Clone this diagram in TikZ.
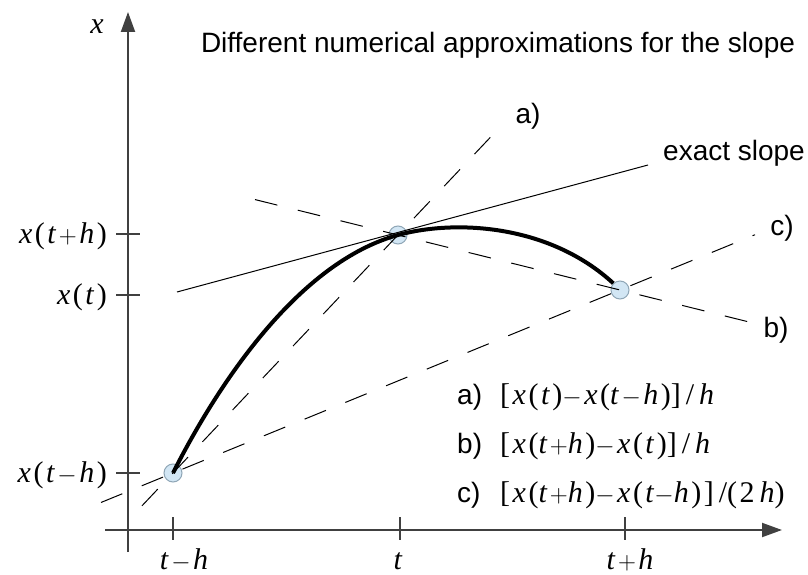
\documentclass[tikz,border=0pt]{standalone}
\usepackage{fontspec}
\setmainfont{Liberation Sans}
\newfontfamily\tms{Liberation Serif}
\usetikzlibrary{arrows.meta,calc}
\definecolor{ptfill}{HTML}{D2E6F4}
\definecolor{ptdraw}{HTML}{8FA6B6}
\definecolor{axcol}{HTML}{404040}
\newcommand\mv[1]{\textit{#1}}
\newcommand\xs{\hspace{2.5pt}}
\newcommand\mmin{\ensuremath{-}}
\newcommand\mplus{\ensuremath{+}}
\begin{document}
\begin{tikzpicture}[x=1pt,y=-1pt,
  txt/.style={font=\fontsize{28}{32}\selectfont, inner sep=0pt},
  mth/.style={font=\tms\fontsize{30}{34}\selectfont, inner sep=0pt},
  axis/.style={line width=2pt, draw=axcol},
  tickline/.style={line width=1.6pt, draw=axcol},
  dsh/.style={line width=1pt, dash pattern=on 23pt off 21pt},
  pt/.style={circle, minimum size=18pt, inner sep=0pt, fill=ptfill, draw=ptdraw, line width=1pt}
]
\useasboundingbox (0,0) rectangle (808,575);
% axes
\coordinate (yb) at (128,552);
\coordinate (yt) at (128,12);
\coordinate (xl) at (105,530);
\coordinate (xr) at (782,530);
\draw[axis,-{Triangle[length=20pt,width=14pt]}] (yb) -- (yt);
\draw[axis,-{Triangle[length=20pt,width=14pt]}] (xl) -- (xr);
% ticks
\foreach \tx/\nm in {173/a,400/b,625/c}{
  \coordinate (xt\nm1) at (\tx,517); \coordinate (xt\nm2) at (\tx,540);
  \draw[tickline] (xt\nm1) -- (xt\nm2);}
\foreach \ty/\nm in {234/a,295/b,473/c}{
  \coordinate (yt\nm1) at (116,\ty); \coordinate (yt\nm2) at (140,\ty);
  \draw[tickline] (yt\nm1) -- (yt\nm2);}
% axis labels
\node[mth] (lx) at (97,27) {\mv{x}};
\node[mth,anchor=base] (ltmh) at (184,569) {\mv{t}\xs\mmin\xs\mv{h}};
\node[mth,anchor=base] (lt) at (398,569) {\mv{t}};
\node[mth,anchor=base] (ltph) at (630,569) {\mv{t}\xs\mplus\xs\mv{h}};
\node[mth,anchor=base east] (lxtph) at (107,243) {\mv{x}\xs(\xs\mv{t}\xs\mplus\xs\mv{h}\xs)};
\node[mth,anchor=base east] (lxt) at (107,304) {\mv{x}\xs(\xs\mv{t}\xs)};
\node[mth,anchor=base east] (lxtmh) at (107,482) {\mv{x}\xs(\xs\mv{t}\xs\mmin\xs\mv{h}\xs)};
% title
\node[txt] (title) at (498,45) {Different numerical approximations for the slope};
% points
\node[pt] (P1) at (173,473) {};
\node[pt] (P2) at (398,235) {};
\node[pt] (P3) at (620,290) {};
% exact slope
\coordinate (E1) at (177,292);
\coordinate (E2) at (648,165);
\draw[line width=1pt] (E1) -- (E2);
\node[txt] (lex) at (734,153) {exact slope};
% dashed approximations
\draw[dsh] ($(P1)!-0.138!(P2)$) -- ($(P1)!1.462!(P2)$);
\draw[dsh] ($(P2)!-0.644!(P3)$) -- ($(P2)!1.622!(P3)$);
\draw[dsh] ($(P1)!-0.161!(P3)$) -- ($(P1)!1.302!(P3)$);
\node[txt] (la) at (528,116) {a)};
\node[txt] (lc) at (782,228) {c)};
\node[txt] (lb) at (776,330) {b)};
% curve
\draw[line width=4pt] (P1.center) .. controls (220,380) and (300,262) .. (P2.center)
  .. controls (457,219) and (550,225) .. (P3.135);
% legend
\node[txt,anchor=base west] (ka) at (457,404) {a)};
\node[mth,anchor=base west] (ma) at (500,404) {[\xs\mv{x}\xs(\xs\mv{t}\xs)\mmin\xs\mv{x}\xs(\mv{t}\xs\mmin\xs\mv{h}\xs)]\,/\,\mv{h}};
\node[txt,anchor=base west] (kb) at (457,453) {b)};
\node[mth,anchor=base west] (mb) at (500,453) {[\xs\mv{x}\xs(\mv{t}\xs\mplus\mv{h}\xs)\mmin\xs\mv{x}\xs(\xs\mv{t}\xs)]\,/\,\mv{h}};
\node[txt,anchor=base west] (kc) at (457,502) {c)};
\node[mth,anchor=base west] (mc) at (500,502) {[\xs\mv{x}\xs(\mv{t}\xs\mplus\mv{h}\xs)\mmin\xs\mv{x}\xs(\xs\mv{t}\mmin\mv{h}\xs)\xs]\,/(\xs2\,\mv{h})};
\end{tikzpicture}
\end{document}
